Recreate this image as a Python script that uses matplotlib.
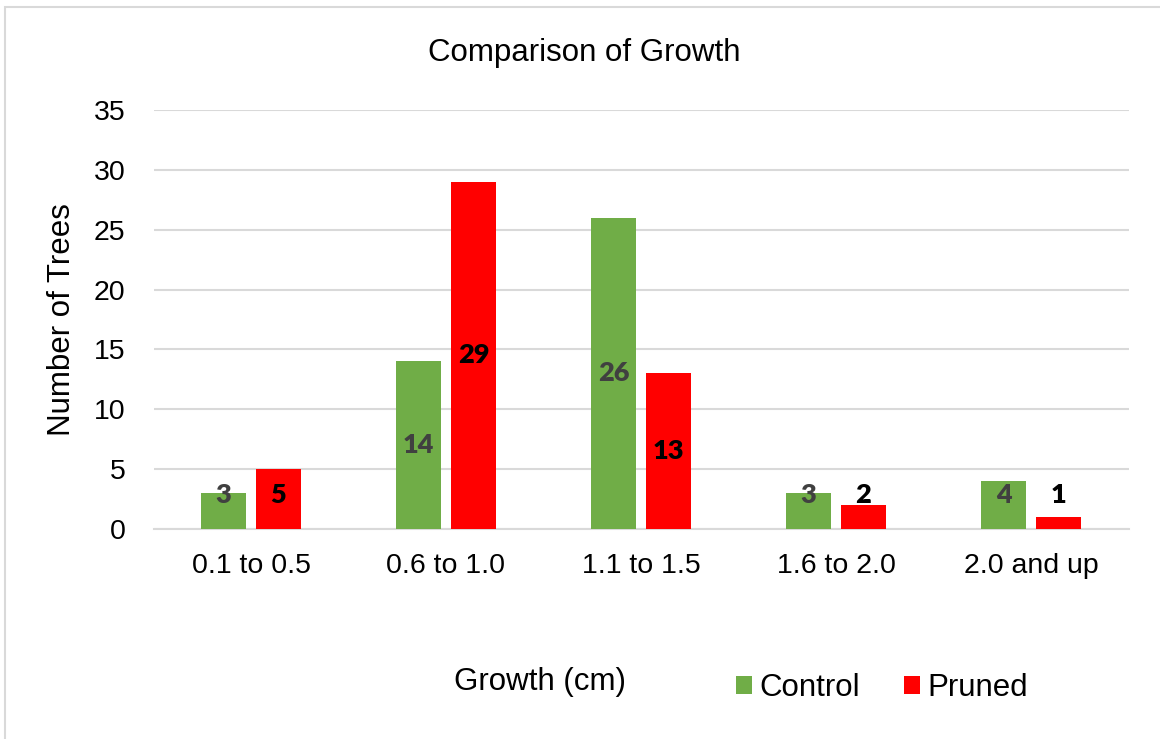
import numpy as np
import matplotlib.pyplot as plt
from matplotlib.patches import Rectangle

categories = ['0.1 to 0.5', '0.6 to 1.0', '1.1 to 1.5', '1.6 to 2.0', '2.0 and up']
control = [3, 14, 26, 3, 4]
pruned = [5, 29, 13, 2, 1]

green = '#70AD47'
red = '#FF0000'
grid_col = '#D9D9D9'

plt.rcParams['font.family'] = ['Liberation Sans', 'DejaVu Sans']

fig = plt.figure(figsize=(11.6, 7.39), dpi=100)
ax = fig.add_axes([153.5/1160, 1-529/739, 975/1160, 419/739])

x = np.arange(len(categories))
width = 0.226
offset = 0.141

bars_c = ax.bar(x - offset, control, width, color=green, label='Control', zorder=3)
bars_p = ax.bar(x + offset, pruned, width, color=red, label='Pruned', zorder=3)

# value labels sit mid-bar, pushed up for short bars
lab_font = dict(ha='center', va='center', fontsize=19.5, fontweight='heavy',
                family=['Lato', 'DejaVu Sans'], zorder=4)
for xi, v in zip(x - offset, control):
    ax.text(xi, max(v/2, 2.8), str(v), color='#404040', **lab_font)
for xi, v in zip(x + offset, pruned):
    ax.text(xi, max(v/2, 2.8), str(v), color='black', **lab_font)

ax.set_xlim(-0.5, len(categories) - 0.5)
ax.set_ylim(0, 35)
ax.set_yticks(np.arange(0, 36, 5))
ax.set_xticks(x)
ax.set_xticklabels(categories)
ax.tick_params(axis='both', length=0, labelsize=20.5, colors='black')
ax.tick_params(axis='y', pad=20)
ax.tick_params(axis='x', pad=17)
ax.yaxis.grid(True, color=grid_col, linewidth=1.5, zorder=0)
for s in ['top', 'right', 'left']:
    ax.spines[s].set_visible(False)
ax.spines['bottom'].set_color(grid_col)
ax.spines['bottom'].set_linewidth(1.5)

ax.set_ylabel('Number of Trees', fontsize=22.5, labelpad=12)
fig.text(584/1160, 1-53/739, 'Comparison of Growth', ha='center', va='center', fontsize=22.5)
fig.text(540/1160, 1-682/739, 'Growth (cm)', ha='center', va='center', fontsize=22.5)

fig.legend(handles=[bars_c, bars_p], labels=['Control', 'Pruned'], loc='center',
           bbox_to_anchor=(882/1160, 1-688/739), ncol=2, frameon=False, fontsize=22.5,
           handlelength=0.5, handleheight=0.5, handletextpad=0.25, columnspacing=1.4,
           borderpad=0, borderaxespad=0)

fig.patches.append(Rectangle((5/1160, -0.1), 1.2, 1.1 - 7/739, transform=fig.transFigure,
                             fill=False, edgecolor=grid_col, linewidth=1.5))

fig.savefig('out.png', dpi=100)
